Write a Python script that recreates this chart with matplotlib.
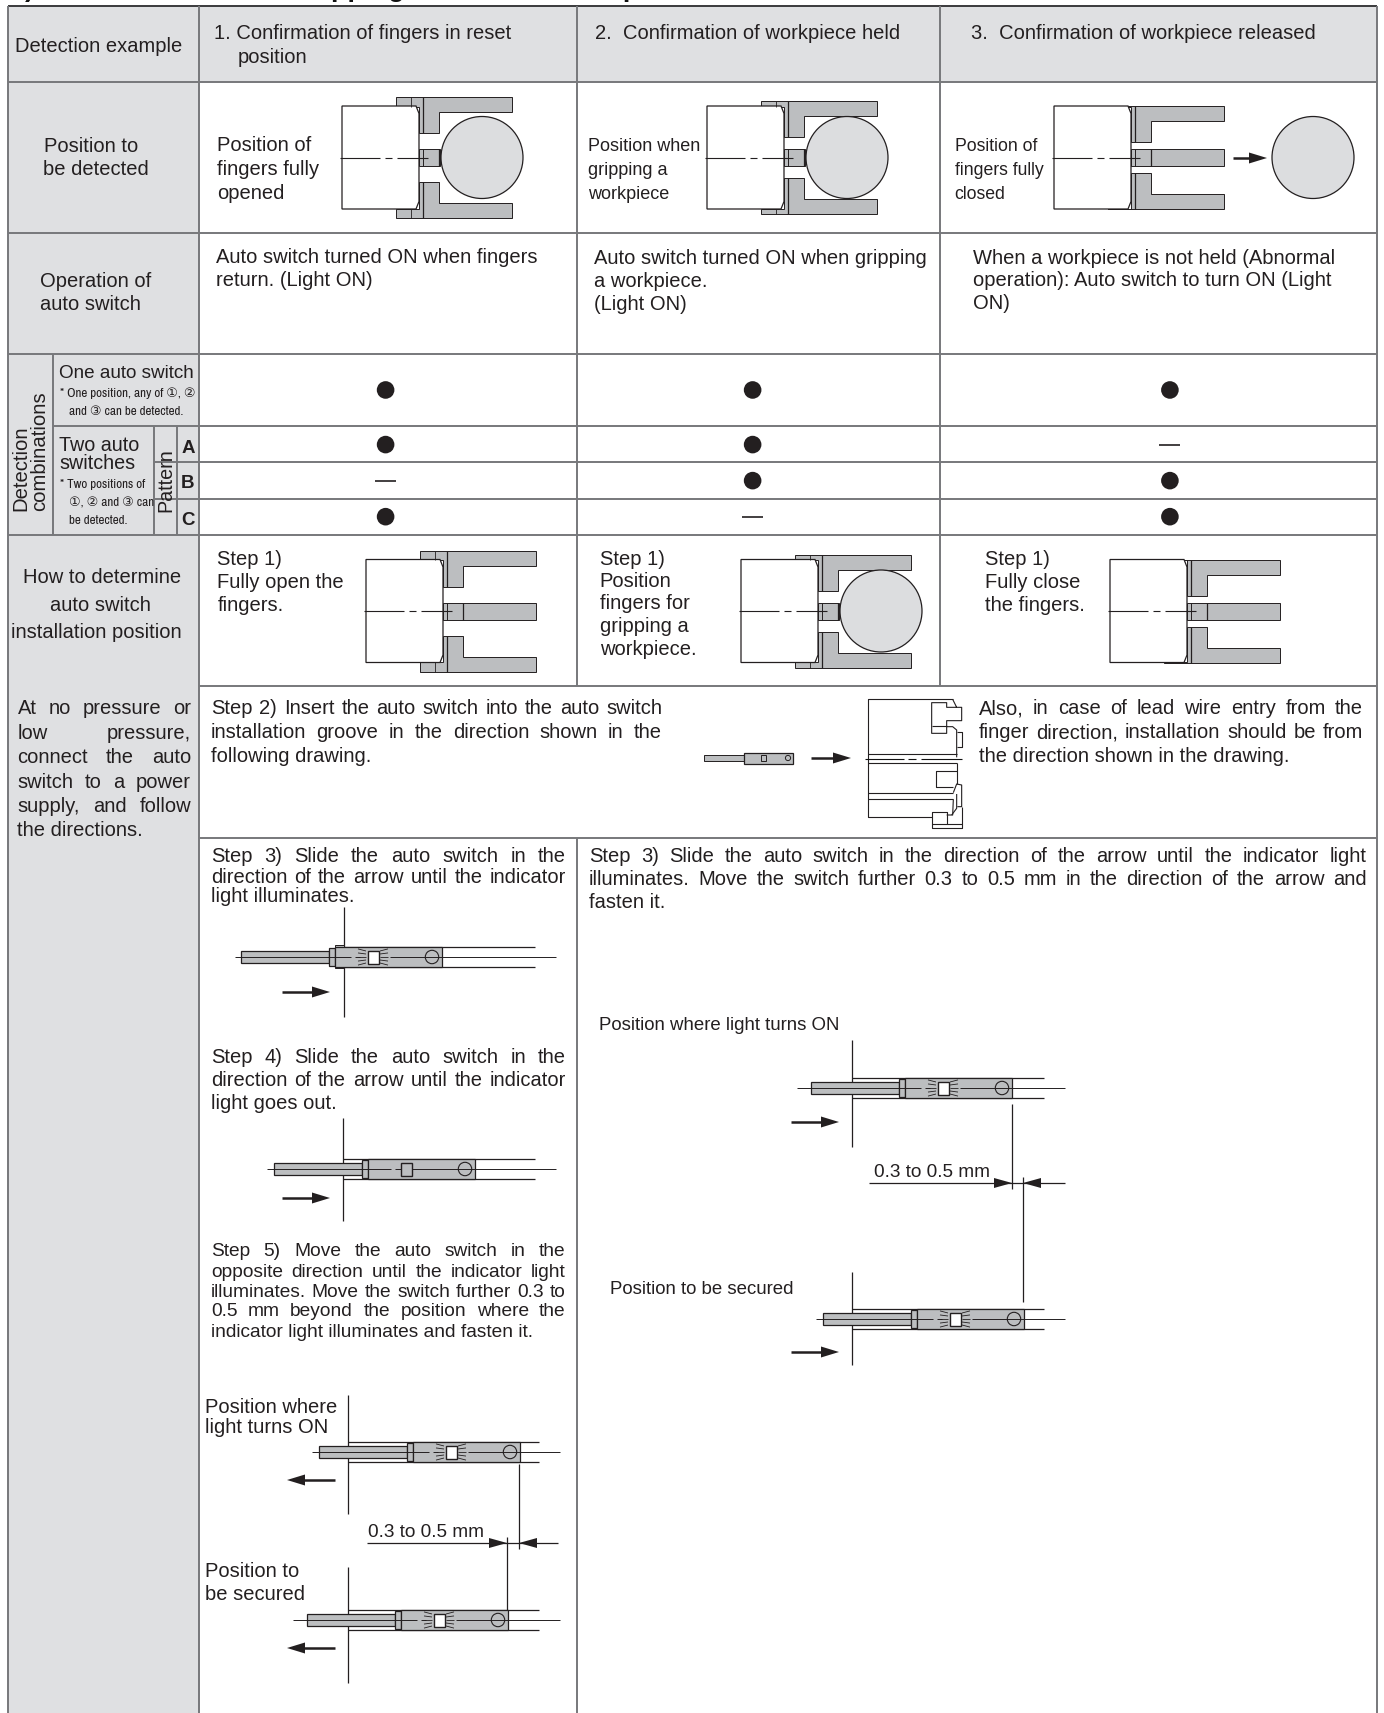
import matplotlib
matplotlib.use("Agg")
import matplotlib.pyplot as plt
from matplotlib.patches import Polygon, Rectangle, Circle
from matplotlib.font_manager import FontProperties, fontManager

S = 1384 / 1267
INK = "#231F20"
RULE = "#77787B"
CELL = "#DFE0E2"
STEEL = "#BCBEC0"
WORK = "#DCDDDF"
SANS = ["Liberation Sans", "DejaVu Sans"]
_cond = sorted({f.name for f in fontManager.ttflist if "Narrow" in f.name or "Condensed" in f.name})
NARROW = ([_cond[0]] if _cond else []) + SANS
NOTE_FS = 9.4 if _cond else 8.1
FS = 14.5
FS5 = 13.8
FD = 13.7

# ---- data -------------------------------------------------------------
COL_HEAD = ["1. Confirmation of fingers in reset", "2.  Confirmation of workpiece held",
            "3.  Confirmation of workpiece released"]
DETECT_ROWS = ["One", "A", "B", "C"]
DETECT = [[1, 1, 1],
          [1, 1, 0],
          [0, 1, 1],
          [1, 0, 1]]
DETECT_Y = [357, 407, 440, 473]
DETECT_X = [353, 689, 1071]

PLAIN = [  # x, y-centre in the shrunken view, text, size
    (14, 42, "Detection example", FS), (196, 30, COL_HEAD[0], FS), (218, 52, "position", FS),
    (545, 30, COL_HEAD[1], FS), (889, 30, COL_HEAD[2], FS),
    (40, 133, "Position to", FS), (39, 154, "be detected", FS),
    (199, 132, "Position of", FS), (199, 154, "fingers fully", FS), (199, 176, "opened", FS),
    (538, 132, "Position when", 13), (538, 154, "gripping a", 13), (538, 176, "workpiece", 13),
    (874, 132, "Position of", 12.7), (874, 154, "fingers fully", 12.7), (874, 176, "closed", 12.7),
    (37, 257, "Operation of", FS), (37, 278, "auto switch", FS),
    (198, 235, "Auto switch turned ON when fingers", FS), (198, 256, "return. (Light ON)", FS),
    (544, 236, "Auto switch turned ON when gripping", FS), (544, 257, "a workpiece.", FS),
    (544, 278, "(Light ON)", FS),
    (891, 236, "When a workpiece is not held (Abnormal", FS),
    (891, 256, "operation): Auto switch to turn ON (Light", FS), (891, 277, "ON)", FS),
    (21, 528, "How to determine", FS), (46, 553, "auto switch", FS), (10, 578, "installation position", FS),
    (16, 759, "the directions.", FS),
    (199, 511, "Step 1)", FS), (199, 532, "Fully open the", FS), (199, 553, "fingers.", FS),
    (549, 511, "Step 1)", FS), (549, 531, "Position", FS), (549, 552, "fingers for", FS),
    (549, 573, "gripping a", FS), (549, 594, "workpiece.", FS),
    (902, 511, "Step 1)", FS), (902, 532, "Fully close", FS), (902, 553, "the fingers.", FS),
    (193, 692, "following drawing.", FS), (896, 692, "the direction shown in the drawing.", FS),
    (193, 820, "light illuminates.", FS), (539, 825, "fasten it.", FS),
    (193, 1009, "light goes out.", FS),
    (193, 1218, "indicator light illuminates and fasten it.", FS5),
    (188, 1288, "Position where", FS), (188, 1306, "light turns ON", FS),
    (337, 1401, "0.3 to 0.5 mm", FD), (188, 1438, "Position to", FS), (188, 1459, "be secured", FS),
    (548, 937, "Position where light turns ON", 13.4), (800, 1072, "0.3 to 0.5 mm", FD),
    (558, 1179, "Position to be secured", 13.4),
]
JUSTIFIED = [  # left x, right x, y-centre, text, size
    (16, 175, 648, "At no pressure or", FS), (16, 175, 671, "low pressure,", FS),
    (16, 175, 693, "connect the auto", FS), (16, 175, 715, "switch to a power", FS),
    (16, 175, 737, "supply, and follow", FS),
    (193, 606, 648, "Step 2) Insert the auto switch into the auto switch", FS),
    (193, 606, 670, "installation groove in the direction shown in the", FS),
    (896, 1248, 648, "Also, in case of lead wire entry from the", FS),
    (896, 1248, 670, "finger direction, installation should be from", FS),
    (193, 518, 783, "Step 3) Slide the auto switch in the", FS),
    (193, 518, 802, "direction of the arrow until the indicator", FS),
    (539, 1251, 783, "Step 3) Slide the auto switch in the direction of the arrow until the indicator light", FS),
    (539, 1251, 804, "illuminates. Move the switch further 0.3 to 0.5 mm in the direction of the arrow and", FS),
    (193, 518, 967, "Step 4) Slide the auto switch in the", FS),
    (193, 518, 988, "direction of the arrow until the indicator", FS),
    (193, 518, 1144, "Step 5) Move the auto switch in the", FS5),
    (193, 518, 1163, "opposite direction until the indicator light", FS5),
    (193, 518, 1181, "illuminates. Move the switch further 0.3 to", FS5),
    (193, 518, 1199, "0.5 mm beyond the position where the", FS5),
]
NOTES = [  # x, baseline (full size), text, narrow?, size
    (59, 378, "One auto switch", False, 13.6), (60, 397, "* One position, any of \u2460, \u2461", True, NOTE_FS),
    (69, 415, "and \u2462 can be detected.", True, NOTE_FS),
    (59, 451, "Two auto", False, 14.2), (59, 469, "switches", False, 14.2),
    (60, 488, "* Two positions of", True, NOTE_FS), (69, 506, "\u2460, \u2461 and \u2462 can", True, NOTE_FS),
    (69, 524, "be detected.", True, NOTE_FS),
]
PATTERN = [("A", 446), ("B", 481), ("C", 518)]

# (body left, centre y, finger travel, long middle finger, workpiece x)
GRIPPERS = [(342, 157.5, 9, False, 482), (707, 157.5, 5, False, 847), (1054, 157.5, 0, True, 1313),
            (366, 611, 9, True, None), (741, 611, 5, False, 881), (1110, 611, 0, True, None)]
# (collar left, centre y, line x, line top, line bottom, centre start, centre end, groove end, lit, flange)
SWITCHES = [(329, 957, 344, 907, 1017, 235, 556, 535, True, True),
            (362, 1169, 343, 1118, 1221, 267, 556, 535, False, False),
            (407, 1452, 348, 1395, 1514, 312, 560, 539, True, False),
            (395, 1620, 348, 1567, 1683, 293, 560, 539, True, False),
            (899, 1088, 852, 1040, 1147, 797, 1065, 1044, True, False),
            (911, 1319, 852, 1272, 1365, 816, 1065, 1044, True, False)]
ARROWS = [(282, 330, 992), (282, 330, 1198), (335, 287, 1480), (335, 287, 1648),
          (791, 839, 1122), (791, 839, 1352), (811, 851, 758), (1233, 1267, 158)]

fig = plt.figure(figsize=(13.84, 17.13), dpi=100)
ax = fig.add_axes([0, 0, 1, 1])
ax.set_xlim(0, 1384)
ax.set_ylim(1713, 0)
ax.axis("off")
rend = fig.canvas.get_renderer()


def line(xs, ys, c=INK, lw=0.9, z=3, **k):
    ax.plot(xs, ys, color=c, lw=lw, zorder=z, solid_capstyle="butt", **k)


def txt(x, y, s, size=FS, fam=SANS, **k):
    k.setdefault("color", INK)
    ax.text(x, y, s, fontsize=size, family=fam, va="baseline", zorder=8, **k)


def arrow(x0, x1, y):
    sgn = 1 if x1 > x0 else -1
    line([x0, x1 - sgn * 10], [y, y], lw=1.8, z=6)
    ax.add_patch(Polygon([(x1, y), (x1 - sgn * 18, y - 5.5), (x1 - sgn * 18, y + 5.5)],
                         fc=INK, ec="none", zorder=6))


def justified(x0, x1, yc, s, size=FS):
    words = s.split()
    fp = FontProperties(family=SANS, size=size)
    widths = [rend.get_text_width_height_descent(w, fp, False)[0] for w in words]
    left, right = x0 * S, x1 * S
    gap = (right - left - sum(widths)) / max(len(words) - 1, 1)
    x = left
    for w, wd in zip(words, widths):
        txt(x, yc * S + 6.5, w, size)
        x += wd + gap


def gripper(x0, yc, d, long_mid, wx):
    for sg in (-1, 1):
        yt, ya, yr = yc + sg * (51.5 + d), yc + sg * (36.5 + d), yc + sg * (15.5 + d)
        ax.add_patch(Polygon([(x0 + 54, yt), (x0 + 170, yt), (x0 + 170, ya), (x0 + 97, ya), (x0 + 97, yr),
                              (x0 + 77, yr), (x0 + 77, yc + sg * 51), (x0 + 54, yc + sg * 51)],
                             fc=STEEL, ec=INK, lw=0.7, zorder=2))
        line([x0 + 81, x0 + 81], [yt, yr], lw=0.9, z=4)
        if d > 0:
            line([x0 + 69, x0 + 69], [yt, yc + sg * 51], lw=0.6, z=4)
    midr = x0 + 170 if long_mid else x0 + 98
    ax.add_patch(Rectangle((x0 + 77, yc - 8.5), midr - x0 - 77, 17, fc=STEEL, ec=INK, lw=0.7, zorder=2))
    line([x0 + 81, x0 + 81], [yc - 8.5, yc + 8.5], lw=0.7, z=4)
    line([x0 + 97, x0 + 97], [yc - 8.5, yc + 8.5], lw=0.9, z=4)
    ax.add_patch(Polygon([(x0, yc - 51.5), (x0 + 74, yc - 51.5), (x0 + 77, yc - 44), (x0 + 77, yc + 44),
                          (x0 + 74, yc + 51.5), (x0, yc + 51.5)], fc="white", ec=INK, lw=0.9, zorder=3))
    line([x0 - 2, x0 + 38], [yc, yc], lw=0.8, z=5)
    line([x0 + 43, x0 + 50], [yc, yc], lw=0.8, z=5)
    line([x0 + 55, x0 + 86], [yc, yc], lw=0.8, z=5)
    if wx is not None:
        ax.add_patch(Circle((wx, yc), 41, fc=WORK, ec=INK, lw=0.9, zorder=5))


def switch(xc, yc, vx, vt, vb, cs, ce, ge, lit, flange):
    line([vx, vx], [vt, vb], lw=0.9, z=2)
    line([vx, ge], [yc - 10, yc - 10], lw=0.9, z=2)
    line([vx, ge], [yc + 9.5, yc + 9.5], lw=0.9, z=2)
    ax.add_patch(Rectangle((xc - 88, yc - 6), 88, 12, fc=STEEL, ec=INK, lw=0.9, zorder=3))
    if flange:
        ax.add_patch(Rectangle((xc + 6, yc - 12), 9, 23, fc=STEEL, ec=INK, lw=0.7, zorder=3))
    ax.add_patch(Rectangle((xc, yc - 9), 6, 18, fc=STEEL, ec=INK, lw=0.9, zorder=4))
    ax.add_patch(Rectangle((xc + 6, yc - 10), 107, 19.5, fc=STEEL, ec=INK, lw=0.9, zorder=4))
    cx = xc + 44
    if lit:
        line([cs, xc + 22], [yc, yc], lw=0.7, z=5)
        line([xc + 26, xc + 31], [yc, yc], lw=0.7, z=5)
        for dy in (-6, -3, 0, 3, 6):
            line([cx - 15, cx - 7], [yc + dy * 1.35, yc + dy], lw=0.6, z=5)
            line([cx + 7, cx + 15], [yc + dy, yc + dy * 1.35], lw=0.6, z=5)
        line([xc + 61, ce], [yc, yc], lw=0.7, z=5)
    else:
        line([cs, xc + 29], [yc, yc], lw=0.7, z=5)
        line([xc + 33, ce], [yc, yc], lw=0.7, z=5)
    ax.add_patch(Rectangle((cx - 5.5, yc - 6.5), 11, 13, fc="white" if lit else STEEL, ec=INK, lw=1.0, zorder=6))
    ax.add_patch(Circle((xc + 103, yc), 6.7, fc="none", ec=INK, lw=0.8, zorder=6))


def dims(ext1, ext2, ya, x_left, x_right):
    (x1, y10, y11), (x2, y20, y21) = ext1, ext2
    line([x1, x1], [y10, y11], lw=0.9)
    line([x2, x2], [y20, y21], lw=0.9)
    lo, hi = min(x1, x2), max(x1, x2)
    line([x_left, x_right], [ya, ya], lw=0.9)
    ax.add_patch(Polygon([(lo, ya), (lo - 18, ya - 5), (lo - 18, ya + 5)], fc=INK, ec="none", zorder=6))
    ax.add_patch(Polygon([(hi, ya), (hi + 18, ya - 5), (hi + 18, ya + 5)], fc=INK, ec="none", zorder=6))


# ---- table -------------------------------------------------------------
XC = [8, 199, 577, 940, 1377]
ax.add_patch(Rectangle((XC[0], 6), XC[1] - XC[0], 1707, fc=CELL, ec="none", zorder=0))
ax.add_patch(Rectangle((XC[0], 6), XC[4] - XC[0], 76, fc=CELL, ec="none", zorder=0))
LW = 1.4
line([XC[0], XC[4]], [6, 6], c="#3A3A3C", lw=LW, z=1)
for y, x0 in ((82, 8), (233, 8), (354, 8), (426, 53), (462, 154), (499, 154), (535, 8), (686, 199), (838, 199)):
    line([x0, XC[4]], [y, y], c=RULE, lw=LW, z=1)
for x in (XC[0], XC[1], XC[4]):
    line([x, x], [6, 1713], c=RULE, lw=LW, z=1)
for x in XC[2:4]:
    line([x, x], [6, 686], c=RULE, lw=LW, z=1)
line([XC[2], XC[2]], [838, 1713], c=RULE, lw=LW, z=1)
line([53, 53], [354, 535], c=RULE, lw=LW, z=1)
for x in (154, 177):
    line([x, x], [426, 535], c=RULE, lw=LW, z=1)

# ---- cut-off heading ----------------------------------------------------
txt(10, -4, "1)", 19.5, weight="bold", clip_on=True, color="#111111")
txt(84, -4, "Detection when Gripping Exterior of Workpiece", 19.5, weight="bold", clip_on=True, color="#111111")

# ---- text ---------------------------------------------------------------
for x, y, s, size in PLAIN:
    txt(x * S, y * S + 6.5, s, size)
for a, b, y, s, size in JUSTIFIED:
    justified(a, b, y, s, size)
for x, y, s, narrow, size in NOTES:
    txt(x, y, s, size, NARROW if narrow else SANS)
for x, s in ((21, "Detection"), (40, "combinations")):
    ax.text(x, 511, s, rotation=90, ha="center", va="bottom", fontsize=14.6, family=SANS, color=INK, zorder=8)
ax.text(166, 512, "Pattern", rotation=90, ha="center", va="bottom", fontsize=14.2, family=SANS, color=INK, zorder=8)
for s, y in PATTERN:
    ax.text(188, y + 7, s, ha="center", va="baseline", fontsize=13.5, weight="bold", family=SANS, color=INK, zorder=8)

# ---- detection marks -----------------------------------------------------
for row, y in zip(DETECT, DETECT_Y):
    for val, x in zip(row, DETECT_X):
        if val:
            ax.add_patch(Circle((x * S, y * S), 8.8, fc=INK, ec="none", zorder=5))
        else:
            line([x * S - 10.5, x * S + 10.5], [y * S, y * S], lw=1.2, z=5)

# ---- drawings ------------------------------------------------------------
for g in GRIPPERS:
    gripper(*g)
for s in SWITCHES:
    switch(*s)
for a in ARROWS:
    arrow(*a)
dims((1012, 1104, 1189), (1023, 1177, 1302), 1183, 869, 1065)
dims((519, 1464, 1549), (507, 1537, 1610), 1543, 367, 558)

# small switch of step 2
ax.add_patch(Rectangle((704, 755), 40, 6, fc=STEEL, ec=INK, lw=0.7, zorder=3))
ax.add_patch(Rectangle((744, 753), 49, 11, fc=STEEL, ec=INK, lw=0.9, zorder=3))
ax.add_patch(Rectangle((761, 755), 5, 6, fc=STEEL, ec=INK, lw=0.7, zorder=4))
ax.add_patch(Circle((788, 758), 2.6, fc="none", ec=INK, lw=0.7, zorder=4))

HOUSING = [
    [(818, 58), (565, 58), (565, 412), (755, 412)],
    [(818, 58), (830, 82), (845, 82), (845, 122), (800, 122), (800, 160), (755, 160), (755, 68), (800, 68), (800, 82), (830, 82)],
    [(755, 138), (800, 138)],
    [(800, 140), (818, 140), (830, 150), (830, 232)],
    [(830, 155), (845, 155), (845, 200), (830, 200)],
    [(565, 222), (830, 222)], [(565, 248), (830, 248)],
    [(830, 248), (830, 312)],
    [(830, 272), (768, 272), (768, 320), (820, 320)],
    [(565, 338), (820, 338)], [(565, 358), (820, 358)],
    [(820, 338), (830, 312), (845, 315), (845, 380), (832, 380)],
    [(820, 358), (818, 405), (800, 405)],
    [(830, 342), (830, 385), (815, 405)],
    [(755, 412), (755, 395), (800, 395), (800, 432), (845, 432), (845, 445), (755, 445), (755, 412)],
    [(755, 432), (800, 432)], [(845, 380), (845, 432)],
]
for seg in HOUSING:
    line([680 + p[0] / 3 for p in seg], [680 + p[1] / 3 for p in seg], lw=0.8)
line([680 + 555 / 3, 680 + 672 / 3], [758.5, 758.5], lw=0.8, z=4, c="#111111")
line([680 + 684 / 3, 680 + 708 / 3], [758.5, 758.5], lw=0.8, z=4, c="#111111")
line([680 + 722 / 3, 680 + 845 / 3], [758.5, 758.5], lw=0.8, z=4, c="#111111")

fig.savefig("out.png", dpi=100)
